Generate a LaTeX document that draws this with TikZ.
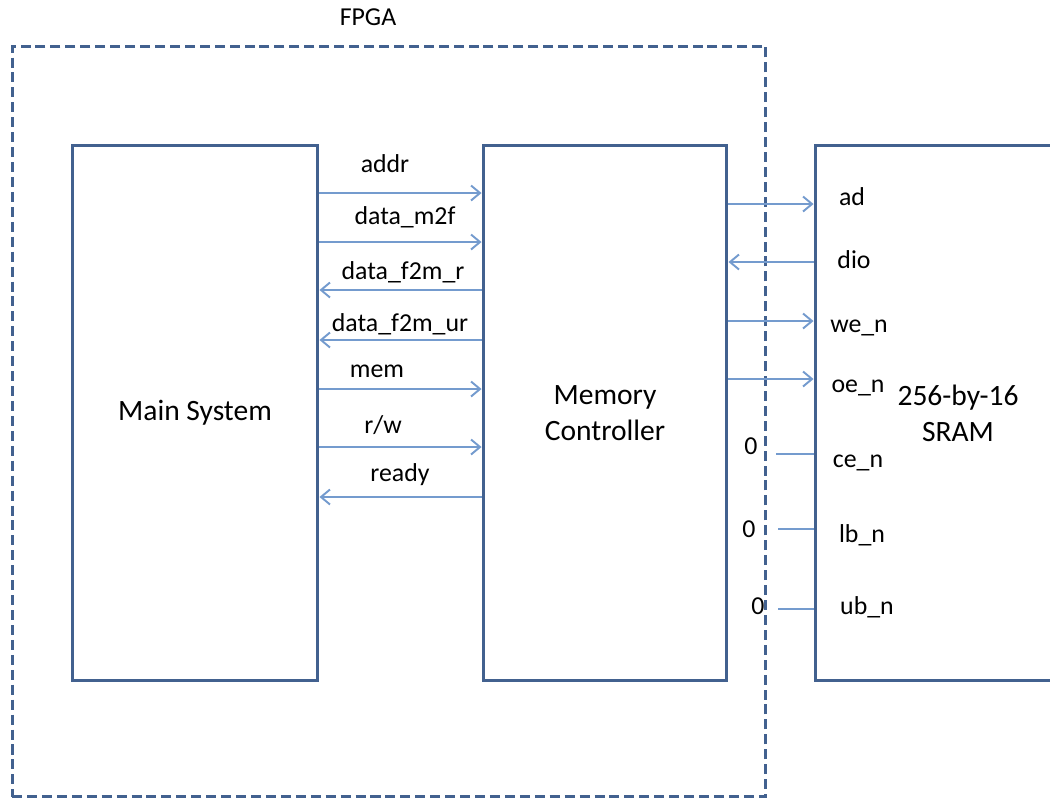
\documentclass[tikz,border=0pt]{standalone}
\usepackage{fontspec}
\setmainfont{Carlito}
\usetikzlibrary{arrows.meta}
\definecolor{boxblue}{RGB}{66,97,143}
\definecolor{sigblue}{RGB}{116,155,206}
\tikzset{
	block/.style={draw=boxblue,line width=1.7pt,rectangle,minimum height=10.72cm,align=center,font=\fontsize{16.8}{20.4}\selectfont},
	sig/.style={draw=sigblue,line width=1.1pt},
	sigto/.style={sig,-{Straight Barb[length=1.8mm,width=3mm]}},
	lbl/.style={font=\fontsize{14.7}{17}\selectfont,text height=.75em,text depth=.25em,inner sep=0pt,yshift=-2pt}
}
\begin{document}
\begin{tikzpicture}[x=0.02cm,y=-0.02cm]
	\useasboundingbox (0,0) rectangle (1050,799);
	\node (fpga) at (389,421.5) [draw=boxblue,line width=1.7pt,dash pattern=on 5.7pt off 2.8pt,rectangle,minimum width=15.08cm,minimum height=15.02cm] {};
	\node (fpgalbl) at (368,18) [lbl] {FPGA};
	\node (ms) at (195,413) [block,minimum width=4.92cm] {Main System};
	\node (mc) at (605,413) [block,minimum width=4.88cm] {Memory\\Controller};
	\node (sram) at (958,413) [block,minimum width=5.72cm] {256-by-16\\SRAM};
	\node (addr) at (385,165) [lbl] {addr};
	\node (m2f) at (405,217) [lbl] {data\_m2f};
	\node (f2mr) at (403,272) [lbl] {data\_f2m\_r};
	\node (f2mur) at (400,324) [lbl] {data\_f2m\_ur};
	\node (mem) at (377,370) [lbl] {mem};
	\node (rw) at (383,426) [lbl] {r/w};
	\node (ready) at (400,474) [lbl] {ready};
	\draw[sigto] (ms.east |- 0,193) -- (mc.west |- 0,193);
	\draw[sigto] (ms.east |- 0,242) -- (mc.west |- 0,242);
	\draw[sigto] (mc.west |- 0,290) -- (ms.east |- 0,290);
	\draw[sigto] (mc.west |- 0,340) -- (ms.east |- 0,340);
	\draw[sigto] (ms.east |- 0,389) -- (mc.west |- 0,389);
	\draw[sigto] (ms.east |- 0,447) -- (mc.west |- 0,447);
	\draw[sigto] (mc.west |- 0,497) -- (ms.east |- 0,497);
	\node (ad) at (852,198) [lbl] {ad};
	\node (dio) at (854,261) [lbl] {dio};
	\node (wen) at (859,325) [lbl] {we\_n};
	\node (oen) at (858,385) [lbl] {oe\_n};
	\node (cen) at (858,460) [lbl] {ce\_n};
	\node (lbn) at (862,535) [lbl] {lb\_n};
	\node (ubn) at (867,607) [lbl] {ub\_n};
	\draw[sigto] (mc.east |- 0,204) -- (sram.west |- 0,204);
	\draw[sigto] (sram.west |- 0,262) -- (mc.east |- 0,262);
	\draw[sigto] (mc.east |- 0,321) -- (sram.west |- 0,321);
	\draw[sigto] (mc.east |- 0,379) -- (sram.west |- 0,379);
	\node (zce) at (751,447) [lbl] {0};
	\node (zlb) at (749,530) [lbl] {0};
	\node (zub) at (758,607) [lbl] {0};
	\coordinate (ce) at (776,454);
	\coordinate (lb) at (778,529);
	\coordinate (ub) at (778,609);
	\draw[sig] (ce) -- (sram.west |- ce);
	\draw[sig] (lb) -- (sram.west |- lb);
	\draw[sig] (ub) -- (sram.west |- ub);
\end{tikzpicture}
\end{document}
